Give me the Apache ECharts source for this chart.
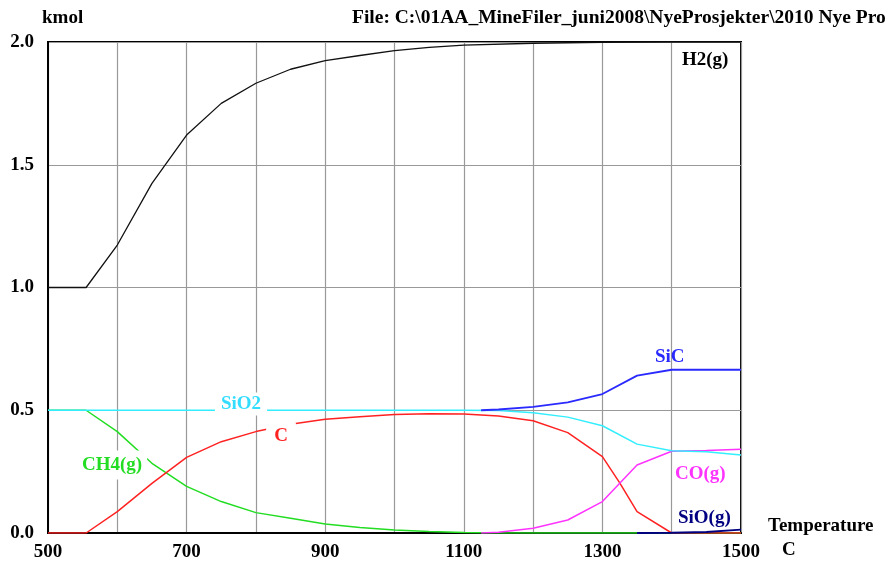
<!DOCTYPE html>
<html>
<head>
<meta charset="utf-8">
<script src="https://cdn.jsdelivr.net/npm/echarts@6/dist/echarts.min.js"></script>
<style>
html,body{margin:0;padding:0;background:#fff;}
#chart{width:888px;height:563px;}
</style>
</head>
<body>
<div id="chart"></div>
<script>
// ---- data (temperature in C, amount in kmol) ----
const h2T  = [500, 555, 600, 650, 700, 750, 800, 850, 900, 950, 1000, 1050, 1100, 1200, 1300, 1400, 1500];
const h2   = [1.0, 1.0, 1.173, 1.424, 1.621, 1.75, 1.832, 1.889, 1.924, 1.945, 1.965, 1.978, 1.987, 1.995, 1.999, 2.0, 2.0];

const ch4T = [500, 555, 600, 650, 700, 750, 800, 850, 900, 950, 1000, 1050, 1100, 1150, 1200, 1300, 1400, 1500];
const ch4  = [0.5, 0.5, 0.413, 0.284, 0.19, 0.128, 0.083, 0.06, 0.037, 0.022, 0.012, 0.006, 0.002, 0, 0, 0, 0, 0];

const cT   = [500, 555, 600, 650, 700, 750, 800, 850, 900, 950, 1000, 1050, 1100, 1150, 1200, 1250, 1300, 1325, 1350, 1400, 1450, 1500];
const c    = [0, 0, 0.087, 0.202, 0.308, 0.372, 0.413, 0.443, 0.463, 0.474, 0.483, 0.486, 0.485, 0.477, 0.457, 0.409, 0.311, 0.204, 0.087, 0, 0, 0];

const sio2T = [500, 1100, 1150, 1200, 1250, 1300, 1350, 1400, 1450, 1500];
const sio2  = [0.5, 0.5, 0.499, 0.49, 0.472, 0.437, 0.362, 0.335, 0.331, 0.318];

const sicT = [1125, 1150, 1200, 1250, 1300, 1350, 1400, 1450, 1500];
const sic  = [0.5, 0.503, 0.514, 0.532, 0.566, 0.641, 0.665, 0.665, 0.665];

const coT  = [1125, 1150, 1200, 1250, 1300, 1350, 1400, 1450, 1500];
const co   = [0, 0.003, 0.019, 0.053, 0.128, 0.277, 0.333, 0.336, 0.341];

const sioT = [1350, 1400, 1450, 1500];
const sio  = [0, 0.001, 0.004, 0.014];

const xTickLabels = [500, 700, 900, 1100, 1300, 1500];

function pairs(xs, ys) { return xs.map((x, i) => [x, ys[i]]); }

const FONT = 'bold 19px "Liberation Serif", "Times New Roman", serif';
const TITLE_FONT = 'bold 19.5px "Liberation Serif", "Times New Roman", serif';
const chart = echarts.init(document.getElementById('chart'), null, {renderer: 'canvas'});

function mkLine(name, xs, ys, color, width, z) {
  return {
    name: name, type: 'line', data: pairs(xs, ys), showSymbol: false, symbol: 'none',
    lineStyle: {color: color, width: width}, itemStyle: {color: color},
    z: z, animation: false, silent: true
  };
}

function label(text, x, y, color, opts) {
  opts = opts || {};
  return {
    type: 'text', x: x, y: y, z: 100, zlevel: 0, silent: true,
    style: Object.assign({
      text: text, fill: color, font: opts.font || FONT,
      textAlign: opts.align || 'left', textVerticalAlign: 'middle'
    }, opts.bg ? {backgroundColor: '#fff', padding: opts.pad || [2, 4]} : {})
  };
}

chart.setOption({
  animation: false,
  backgroundColor: '#fff',
  grid: {left: 48, right: 147, top: 42, bottom: 30, show: true, borderColor: '#000', borderWidth: 2, backgroundColor: 'transparent'},
  xAxis: {
    type: 'value', min: 500, max: 1500, interval: 100,
    axisLine: {show: true, lineStyle: {color: '#000', width: 2}},
    axisTick: {show: false},
    splitLine: {show: true, lineStyle: {color: '#999', width: 1.2}},
    axisLabel: {
      show: true, showMinLabel: true, showMaxLabel: true, margin: 10,
      color: '#000', fontFamily: '"Liberation Serif", serif', fontWeight: 'bold', fontSize: 19,
      formatter: v => (xTickLabels.indexOf(v) >= 0 ? String(v) : '')
    }
  },
  yAxis: {
    type: 'value', min: 0, max: 2, interval: 0.5,
    axisLine: {show: true, lineStyle: {color: '#000', width: 2}},
    axisTick: {show: false},
    splitLine: {show: true, lineStyle: {color: '#999', width: 1.2}},
    axisLabel: {
      show: true, margin: 14,
      color: '#000', fontFamily: '"Liberation Serif", serif', fontWeight: 'bold', fontSize: 19,
      formatter: v => v.toFixed(1)
    }
  },
  series: [
    mkLine('CH4(g)', ch4T, ch4, '#22dd22', 1.5, 3),
    mkLine('C', cT, c, '#ff2222', 1.5, 4),
    mkLine('H2(g)', h2T, h2, '#111111', 1.3, 5),
    mkLine('CO(g)', coT, co, '#ff33ff', 1.5, 6),
    mkLine('SiO2', sio2T, sio2, '#33eeff', 1.5, 7),
    mkLine('SiC', sicT, sic, '#2a2aff', 1.8, 8),
    mkLine('SiO(g)', sioT, sio, '#000080', 1.8, 9)
  ],
  graphic: [
    label('kmol', 42, 18, '#000'),
    label('File: C:\\01AA_MineFiler_juni2008\\NyeProsjekter\\2010 Nye Pro', 352, 18, '#000', {font: TITLE_FONT}),
    label('H2(g)', 682, 60, '#000'),
    label('SiO2', 241, 404, '#33ddff', {align: 'center', bg: true, pad: [2, 6]}),
    label('C', 281, 436, '#ff2222', {align: 'center', bg: true, pad: [6, 8, 2, 8]}),
    label('CH4(g)', 81, 465, '#22dd22', {bg: true, pad: [8, 5, 2, 1]}),
    label('SiC', 655, 357, '#2a2aff'),
    label('CO(g)', 675, 474, '#ff33ff'),
    label('SiO(g)', 678, 518, '#000080'),
    label('Temperature', 768, 526, '#000'),
    label('C', 782, 550, '#000')
  ]
});
</script>
</body>
</html>
